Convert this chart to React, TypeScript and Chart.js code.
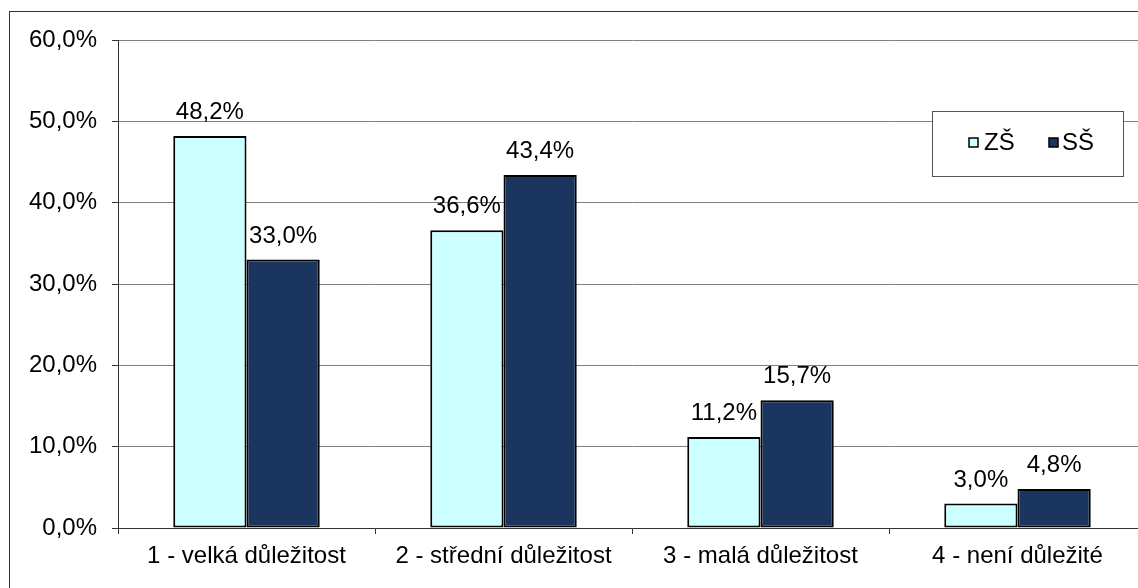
import React, { useEffect, useRef } from "react";
import { Chart, registerables } from "chart.js";

Chart.register(...registerables);

const categories = [
  "1 - velká důležitost",
  "2 - střední důležitost",
  "3 - malá důležitost",
  "4 - není důležité",
];
const seriesNames = ["ZŠ", "SŠ"];
const zsValues = [48.2, 36.6, 11.2, 3.0];
const ssValues = [33.0, 43.4, 15.7, 4.8];
const seriesColors = ["#CCFFFF", "#1B365E"];

const FONT = "'Liberation Sans', Arial, sans-serif";
const FS = 24;
const fmt = (v: number) => v.toFixed(1).replace(".", ",") + "%";

const decorPlugin = {
  id: "decor",
  beforeDraw(chart: any) {
    const ctx = chart.ctx;
    ctx.save();
    ctx.fillStyle = "#ffffff";
    ctx.fillRect(0, 0, chart.width, chart.height);
    ctx.strokeStyle = "#333333";
    ctx.lineWidth = 1;
    ctx.strokeRect(9.5, 11.5, chart.width + 50, chart.height + 50);
    ctx.restore();
  },
  afterDatasetsDraw(chart: any) {
    const ctx = chart.ctx;
    ctx.save();
    ctx.font = `${FS}px ${FONT}`;
    ctx.fillStyle = "#000000";
    ctx.textAlign = "center";
    ctx.textBaseline = "alphabetic";
    chart.data.datasets.forEach((ds: any, di: number) => {
      const meta = chart.getDatasetMeta(di);
      meta.data.forEach((bar: any, i: number) => {
        ctx.fillText(fmt(ds.data[i]), bar.x, bar.y - 17);
      });
    });
    // legend box
    const bx = 932.5, by = 111.5, bw = 191, bh = 65;
    ctx.fillStyle = "#ffffff";
    ctx.fillRect(bx, by, bw, bh);
    ctx.strokeStyle = "#555555";
    ctx.lineWidth = 1;
    ctx.strokeRect(bx, by, bw, bh);
    const items = [
      { sx: 969, tx: 984 },
      { sx: 1049, tx: 1062 },
    ];
    chart.data.datasets.forEach((ds: any, di: number) => {
      const it = items[di];
      ctx.fillStyle = ds.backgroundColor;
      ctx.fillRect(it.sx, 138, 9, 9);
      ctx.strokeStyle = "#000000";
      ctx.lineWidth = 1.5;
      ctx.strokeRect(it.sx, 138, 9, 9);
      ctx.fillStyle = "#000000";
      ctx.textAlign = "left";
      ctx.textBaseline = "middle";
      ctx.font = `${FS}px ${FONT}`;
      ctx.fillText(ds.label, it.tx, 143);
    });
    ctx.restore();
  },
};

export default function App() {
  const ref = useRef<HTMLCanvasElement | null>(null);
  useEffect(() => {
    if (!ref.current) return;
    const mk = (i: number, data: number[]) => ({
      label: seriesNames[i],
      data,
      backgroundColor: seriesColors[i],
      borderColor: "#000000",
      borderWidth: 2,
      borderSkipped: false as const,
      categoryPercentage: 0.57,
      barPercentage: 1,
    });
    const chart = new Chart(ref.current, {
      type: "bar",
      data: {
        labels: categories,
        datasets: [mk(0, zsValues), mk(1, ssValues)],
      },
      options: {
        animation: false,
        responsive: false,
        devicePixelRatio: 1,
        layout: { padding: { top: 40, right: 14, left: 0, bottom: 0 } },
        plugins: {
          legend: { display: false },
          tooltip: { enabled: false },
          title: { display: false },
        },
        scales: {
          x: {
            afterFit: (s: any) => {
              s.height = 60;
            },
            grid: {
              offset: true,
              drawOnChartArea: false,
              drawTicks: true,
              tickLength: 6,
              color: "#333333",
            },
            border: { color: "#333333", width: 1 },
            ticks: {
              color: "#000000",
              font: { family: FONT, size: FS },
              padding: 8,
              maxRotation: 0,
              autoSkip: false,
            },
          },
          y: {
            min: 0,
            max: 60,
            afterFit: (s: any) => {
              s.width = 118;
            },
            grid: {
              color: "#808080",
              lineWidth: 1,
              tickLength: 6,
              tickColor: "#333333",
            },
            border: { color: "#333333", width: 1 },
            ticks: {
              stepSize: 10,
              color: "#000000",
              font: { family: FONT, size: FS },
              padding: 15,
              callback: (v: any) => fmt(Number(v)),
            },
          },
        },
      },
      plugins: [decorPlugin],
    });
    return () => chart.destroy();
  }, []);
  return (
    <div style={{ position: "fixed", left: 0, top: 0, width: 1138, height: 588, overflow: "hidden", background: "#fff" }}>
      <canvas ref={ref} width={1160} height={588} style={{ position: "absolute", left: 0, top: 0 }} />
    </div>
  );
}
